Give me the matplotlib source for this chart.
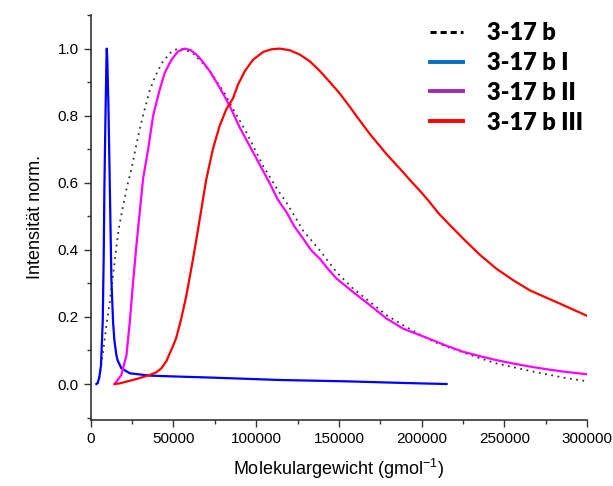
import matplotlib
matplotlib.use('Agg')
import matplotlib.pyplot as plt
from matplotlib.lines import Line2D
from matplotlib.ticker import MultipleLocator

# 3-17 b (gesamt)
x_b = [4000, 5800, 7450, 9500, 11500, 13500, 15100, 16900, 19500, 22000, 24600, 26600, 29600,
       31600, 35300, 38700, 43100, 48200, 52500, 57000, 62000, 67000, 72900, 76400, 81000,
       86100, 94100, 104200, 113300, 118300, 128400, 138500, 148600, 158600, 168700, 178800,
       188800, 205000, 215000, 225100, 235200, 245300, 255400, 265400, 275500, 285600, 298700]
y_b = [0.0, 0.037, 0.096, 0.175, 0.245, 0.324, 0.393, 0.462, 0.53, 0.59, 0.64, 0.69, 0.76,
       0.80, 0.87, 0.915, 0.958, 0.988, 1.0, 0.997, 0.985, 0.96, 0.928, 0.90, 0.866,
       0.819, 0.75, 0.65, 0.576, 0.541, 0.457, 0.398, 0.333, 0.284, 0.245, 0.205,
       0.175, 0.131, 0.111, 0.094, 0.077, 0.061, 0.050, 0.039, 0.029, 0.019, 0.009]

# 3-17 b I
x_b1 = [3400, 4200, 5200, 6200, 7250, 7850, 8250, 8850, 9500, 9700, 10000, 10700, 11500,
        12500, 13500, 14300, 15500, 16300, 18500, 23600, 35700, 53800, 73800, 114300,
        154600, 190000, 215000]
y_b1 = [0.0, 0.003, 0.02, 0.056, 0.186, 0.383, 0.58, 0.78, 0.967, 1.0, 0.97, 0.829, 0.6,
        0.31, 0.185, 0.13, 0.086, 0.07, 0.047, 0.032, 0.025, 0.022, 0.019, 0.012,
        0.008, 0.003, 0.0]

# 3-17 b II
x_b2 = [14500, 18500, 21600, 23600, 25600, 27600, 29600, 31600, 34700, 37700, 41700, 44700,
        48800, 52800, 56800, 60500, 63900, 67500, 71900, 78000, 84000, 90100, 96000, 102000,
        108000, 113000, 118300, 123000, 128400, 133000, 138500, 143000, 148600, 158600,
        168700, 178800, 188800, 205000, 215000, 225100, 235200, 245300, 255400, 265400,
        275500, 285600, 300000]
y_b2 = [0.0, 0.027, 0.086, 0.185, 0.304, 0.413, 0.512, 0.611, 0.70, 0.80, 0.878, 0.928,
        0.967, 0.992, 1.0, 0.995, 0.982, 0.962, 0.933, 0.883, 0.829, 0.764, 0.71, 0.655,
        0.60, 0.55, 0.512, 0.47, 0.433, 0.40, 0.373, 0.345, 0.314, 0.274,
        0.235, 0.195, 0.165, 0.134, 0.114, 0.096, 0.083, 0.071, 0.061, 0.052,
        0.044, 0.037, 0.029]

# 3-17 b III
x_b3 = [14500, 17500, 27000, 35700, 39700, 42700, 45700, 47800, 49700, 51700, 54700, 57800,
        60800, 63800, 66800, 69800, 73800, 77900, 82000, 86000, 89000, 93100, 98100, 104200,
        109200, 114300, 120300, 126400, 132400, 138500, 144500, 150500, 156600, 161600,
        168700, 178800, 183800, 188800, 193800, 198900, 204000, 210000, 215000, 225100,
        235200, 245300, 255400, 265400, 275500, 285600, 300000]
y_b3 = [0.0, 0.002, 0.014, 0.027, 0.035, 0.047, 0.068, 0.092, 0.113, 0.138, 0.195, 0.264,
        0.345, 0.43, 0.52, 0.61, 0.70, 0.77, 0.82, 0.852, 0.893, 0.933, 0.967, 0.99,
        0.998, 1.0, 0.995, 0.982, 0.962, 0.933, 0.900, 0.866, 0.826, 0.792,
        0.745, 0.685, 0.658, 0.631, 0.603, 0.576, 0.547, 0.51, 0.484, 0.433,
        0.385, 0.343, 0.309, 0.279, 0.257, 0.235, 0.203]

labels = ['3-17 b', '3-17 b I', '3-17 b II', '3-17 b III']

fig = plt.figure(figsize=(6.13, 4.86), dpi=100)
ax = fig.add_axes([0.148, 0.136, 0.81, 0.833])

ax.plot(x_b, y_b, color='#333333', lw=1.3, linestyle=(0, (1, 2.5)))
ax.plot(x_b1, y_b1, color='#0000FF', lw=1.6)
ax.plot(x_b2, y_b2, color='#FF00FF', lw=1.6)
ax.plot(x_b3, y_b3, color='#FF0000', lw=1.6)

ax.set_xlim(0, 300000)
ax.set_ylim(-0.107, 1.10)
ax.xaxis.set_minor_locator(MultipleLocator(25000))
ax.yaxis.set_minor_locator(MultipleLocator(0.1))
ax.set_yticks([0.0, 0.2, 0.4, 0.6, 0.8, 1.0])
ax.set_yticklabels(['0.0', '0.2', '0.4', '0.6', '0.8', '1.0'])
ax.set_xticks([0, 50000, 100000, 150000, 200000, 250000, 300000])
ax.set_xticklabels(['0', '50000', '100000', '150000', '200000', '250000', '300000'])

for s in ['top', 'right']:
    ax.spines[s].set_visible(False)
for s in ['left', 'bottom']:
    ax.spines[s].set_color('#333333')
    ax.spines[s].set_linewidth(1.2)
ax.tick_params(which='major', direction='out', length=5, width=1, colors='#333333',
               labelsize=11, labelcolor='black')
ax.tick_params(which='minor', direction='out', length=3, width=1, colors='#333333')
for t in ax.get_xticklabels() + ax.get_yticklabels():
    t.set_family('Liberation Sans')

ax.set_xlabel('Molekulargewicht (gmol$^{\\mathregular{-1}}$)', fontsize=13,
              family='Liberation Sans', labelpad=8)
ax.set_ylabel('Intensität norm.', fontsize=13, family='Liberation Sans', labelpad=10)

# legend is drawn with its own colours, like in the original figure
handles = [Line2D([], [], color='black', lw=2.2, linestyle=(0, (2, 1.3))),
           Line2D([], [], color='#0070C0', lw=2.8),
           Line2D([], [], color='#A02CB0', lw=2.8),
           Line2D([], [], color='#FF0000', lw=2.8)]
leg = ax.legend(handles, labels, loc='upper left', bbox_to_anchor=(0.641, 1.035),
                frameon=False, handlelength=1.4, handletextpad=1.0, labelspacing=0.33,
                prop={'family': 'Lato', 'weight': 'heavy', 'size': 17})

fig.savefig('out.png', dpi=100)
